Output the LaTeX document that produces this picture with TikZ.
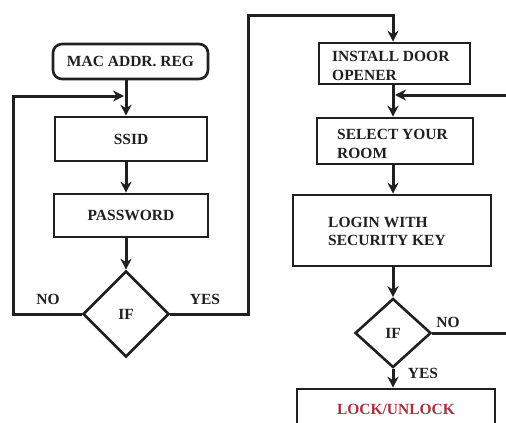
\documentclass[tikz,border=0pt]{standalone}
\usepackage{fontspec}
\setmainfont{Liberation Serif}
\usetikzlibrary{shapes.geometric,arrows.meta}
\definecolor{ink}{HTML}{202020}
\definecolor{lockred}{HTML}{A8303F}
\tikzset{
  boxstyle/.style={draw=ink, line width=2.6pt, rectangle, inner sep=0pt},
  termstyle/.style={draw=ink, line width=2.6pt, rectangle, rounded corners=9pt, inner sep=0pt},
  decide/.style={draw=ink, line width=2.6pt, diamond, inner sep=0pt, minimum width=#1, minimum height=#1},
  txt/.style={font=\fontsize{15.5}{18.5}\selectfont\bfseries, text=ink},
  lbl/.style={font=\fontsize{15.5}{18}\selectfont\bfseries, text=ink, inner sep=0pt},
  flow/.style={draw=ink, line width=3pt, -{Stealth[length=11pt,width=11pt]}},
}
\begin{document}
\begin{tikzpicture}[x=1pt,y=-1pt]
\useasboundingbox (0,0) rectangle (506,423);
\clip (0,0) rectangle (506,423);
\fill[white] (0,0) rectangle (506,423);

% left column
\node[termstyle, minimum width=155pt, minimum height=35pt, txt] (mac) at (130.5,61.5) {MAC ADDR. REG};
\node[boxstyle, minimum width=152pt, minimum height=44pt, txt] (ssid) at (131,139) {SSID};
\node[boxstyle, minimum width=154pt, minimum height=43pt, txt] (pwd) at (131,215.5) {PASSWORD};
\node[decide=86pt, txt] (ifa) at (126,314) {IF};

% right column
\node[boxstyle, minimum width=151pt, minimum height=41pt] (install) at (394.5,63.5) {};
\node[txt, align=left, anchor=west, inner sep=0pt] (installtxt) at (332,66) {INSTALL DOOR\\OPENER};
\node[boxstyle, minimum width=156pt, minimum height=46pt] (select) at (395,141) {};
\node[txt, align=left, anchor=west, inner sep=0pt] (selecttxt) at (337,144) {SELECT YOUR\\ROOM};
\node[boxstyle, minimum width=198pt, minimum height=71pt] (login) at (392,230.5) {};
\node[txt, align=left, anchor=west, inner sep=0pt] (logintxt) at (328,231.5) {LOGIN WITH\\SECURITY KEY};
\node[decide=76pt, minimum height=69pt, txt] (ifb) at (393,333) {IF};
\node[boxstyle, minimum width=198pt, minimum height=40pt, font=\fontsize{15.5}{18.5}\selectfont\bfseries, text=lockred] (lock) at (396,409) {LOCK/UNLOCK};

% labels
\node[lbl] (noa) at (48,299) {NO};
\node[lbl] (yesa) at (205,299) {YES};
\node[lbl] (nob) at (448,322) {NO};
\node[lbl] (yesb) at (423,373) {YES};

% helper points
\coordinate (loopcorner) at (13,96);
\coordinate (loopend) at (124,96);
\coordinate (yescorner) at (248,15);
\coordinate (backend) at (395,95);
\coordinate (farlow) at (530,333);
\coordinate (farhigh) at (530,95);

% left column flow
\draw[flow] (mac.south -| ifa.north) -- (ssid.north -| ifa.north);
\draw[flow] (ssid.south -| ifa.north) -- (pwd.north -| ifa.north);
\draw[flow] (pwd.south -| ifa.north) -- (ifa.north);
\draw[flow] (ifa.west) -| (loopcorner) -- (loopend);
\draw[flow] (ifa.east) -| (yescorner) -| (install.north -| ifb.north);

% right column flow
\draw[flow] (install.south -| ifb.north) -- (select.north -| ifb.north);
\draw[flow] (select.south -| ifb.north) -- (login.north -| ifb.north);
\draw[flow] (login.south -| ifb.north) -- (ifb.north);
\draw[flow] (ifb.south) -- (lock.north -| ifb.south);
\draw[flow] (ifb.east) -- (farlow) -- (farhigh) -- (backend);
\end{tikzpicture}
\end{document}
